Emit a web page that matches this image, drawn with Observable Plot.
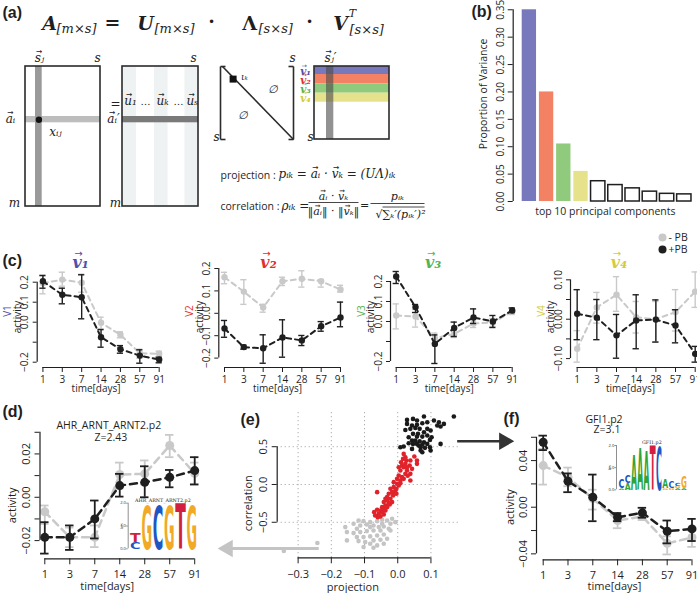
<!DOCTYPE html>
<html>
<head>
<meta charset="utf-8">
<script src="https://cdn.jsdelivr.net/npm/d3@7"></script>
<script src="https://cdn.jsdelivr.net/npm/@observablehq/plot@0.6"></script>
<style>
  html, body { margin: 0; padding: 0; background: #fff; }
  #fig { position: relative; width: 697px; height: 593px; overflow: hidden; background: #fff; }
  #fig svg { position: absolute; background: transparent !important; overflow: visible; max-width: none !important; }
</style>
</head>
<body>
<div id="fig"></div>
<script>
// ======================= DATA =======================
const days = ["1", "3", "7", "14", "28", "57", "91"];
const dayIndex = [1, 2, 3, 4, 5, 6, 7];

// (b) proportion of variance, top 10 PCs
const pcVariance = [0.35, 0.20, 0.105, 0.055, 0.037, 0.030, 0.024, 0.018, 0.014, 0.013];
const varTicks = [0, 0.05, 0.10, 0.15, 0.20, 0.25, 0.30, 0.35];

// (c) v1
const v1MinusMean = [0.195, 0.213, 0.197, -0.003, -0.063, -0.155, -0.158];
const v1MinusLow  = [0.142, 0.180, 0.150, -0.033, -0.078, -0.180, -0.175];
const v1MinusHigh = [0.237, 0.250, 0.240, 0.025, -0.048, -0.135, -0.145];
const v1PlusMean  = [0.205, 0.137, 0.125, -0.075, -0.135, -0.167, -0.187];
const v1PlusLow   = [0.170, 0.092, 0.017, -0.125, -0.155, -0.205, -0.203];
const v1PlusHigh  = [0.233, 0.170, 0.237, -0.037, -0.117, -0.138, -0.175];
// (c) v2
const v2MinusMean = [0.161, 0.097, 0.026, 0.143, 0.154, 0.143, 0.106];
const v2MinusLow  = [0.132, 0.040, 0.005, 0.124, 0.117, 0.117, 0.095];
const v2MinusHigh = [0.183, 0.150, 0.040, 0.161, 0.190, 0.150, 0.125];
const v2PlusMean  = [-0.068, -0.151, -0.156, -0.108, -0.121, -0.058, -0.019];
const v2PlusLow   = [-0.107, -0.160, -0.223, -0.196, -0.144, -0.080, -0.060];
const v2PlusHigh  = [-0.032, -0.142, -0.096, -0.029, -0.099, -0.037, 0.050];
// (c) v3
const v3MinusMean = [0.030, 0.025, -0.083, -0.062, -0.010, -0.005, 0.050];
const v3MinusLow  = [-0.037, -0.028, -0.110, -0.080, -0.030, -0.025, 0.035];
const v3MinusHigh = [0.088, 0.060, -0.058, -0.045, 0.010, 0.015, 0.065];
const v3PlusMean  = [0.225, 0.072, -0.112, -0.032, 0.020, 0.000, 0.055];
const v3PlusLow   = [0.190, 0.045, -0.210, -0.075, -0.010, -0.030, 0.045];
const v3PlusHigh  = [0.250, 0.085, -0.067, -0.003, 0.063, 0.030, 0.068];
// (c) v4
const v4MinusMean = [-0.075, 0.030, 0.062, 0.005, 0.000, 0.018, 0.070];
const v4MinusLow  = [-0.109, -0.010, 0.020, -0.035, -0.058, -0.030, 0.030];
const v4MinusHigh = [-0.029, 0.068, 0.108, 0.045, 0.045, 0.075, 0.120];
const v4PlusMean  = [0.014, 0.004, -0.041, -0.003, -0.001, -0.016, -0.088];
const v4PlusLow   = [-0.052, -0.052, -0.099, -0.075, -0.058, -0.060, -0.109];
const v4PlusHigh  = [0.075, 0.050, 0.012, 0.062, 0.049, 0.024, -0.069];

// (d) AHR_ARNT_ARNT2.p2
const ahrMinusMean = [-0.0067, -0.0185, -0.0185, 0.0105, 0.0108, 0.0239, 0.0110];
const ahrMinusLow  = [-0.0123, -0.0230, -0.0230, 0.0040, 0.0060, 0.0185, 0.0060];
const ahrMinusHigh = [-0.0038, -0.0140, -0.0130, 0.0160, 0.0170, 0.0288, 0.0160];
const ahrPlusMean  = [-0.0185, -0.0185, -0.0100, 0.0054, 0.0069, 0.0092, 0.0123];
const ahrPlusLow   = [-0.0260, -0.0243, -0.0190, 0.0003, 0.0000, 0.0046, 0.0059];
const ahrPlusHigh  = [-0.0115, -0.0130, -0.0015, 0.0108, 0.0143, 0.0126, 0.0185];

// (f) GFI1.p2
const gfiMinusMean = [0.0357, 0.0257, 0.0074, -0.0114, -0.0080, -0.0310, -0.0260];
const gfiMinusLow  = [0.0194, 0.0180, -0.0020, -0.0180, -0.0110, -0.0405, -0.0340];
const gfiMinusHigh = [0.0500, 0.0340, 0.0150, -0.0060, -0.0050, -0.0250, -0.0200];
const gfiPlusMean  = [0.0557, 0.0223, 0.0086, -0.0086, -0.0048, -0.0206, -0.0186];
const gfiPlusLow   = [0.0490, 0.0129, -0.0120, -0.0120, -0.0090, -0.0310, -0.0290];
const gfiPlusHigh  = [0.0614, 0.0290, 0.0280, -0.0050, -0.0005, -0.0114, -0.0100];

// (e) projection vs correlation  [projection, correlation]
const eTopMotifs = [[0.169,0.899],[0.079,0.899],[0.046,0.868],[0.028,0.855],[0.058,0.846],[0.028,0.802],[0.043,0.780],[0.058,0.789],[0.074,0.811],[0.089,0.824],[0.109,0.846],[0.124,0.824],[0.139,0.802],[0.129,0.767],[0.119,0.780],[0.066,0.736],[0.053,0.749],[0.038,0.736],[0.023,0.722],[0.089,0.736],[0.099,0.714],[0.079,0.692],[0.061,0.670],[0.046,0.670],[0.033,0.626],[0.058,0.634],[0.074,0.634],[0.089,0.648],[0.102,0.626],[0.053,0.581],[0.043,0.581],[0.066,0.573],[0.079,0.559],[0.097,0.590],[0.089,0.537],[0.074,0.529],[0.046,0.537],[0.058,0.537],[0.033,0.546],[0.018,0.502],[0.069,0.449],[0.074,0.427],[0.099,0.449],[0.129,0.537],[0.069,0.493],[0.082,0.485],[0.008,0.493],[0.097,0.493],[0.043,0.471],[0.063,0.515]];
const eMidMotifs = [[0.018,0.405],[0.023,0.361],[0.016,0.339],[0.026,0.317],[0.010,0.295],[0.023,0.273],[0.038,0.317],[0.058,0.317],[0.058,0.273],[0.028,0.229],[0.018,0.229],[0.043,0.207],[0.008,0.185],[0.028,0.185],[0.038,0.141],[0.023,0.141],[0.003,0.119],[0.013,0.097],[-0.002,0.075],[0.008,0.053],[0.038,0.053],[-0.012,0.031],[-0.002,0.009],[0.003,-0.013],[-0.012,-0.035],[-0.022,-0.057],[-0.007,-0.079],[-0.017,-0.101],[-0.027,-0.123],[-0.014,-0.145],[-0.032,-0.167],[-0.022,-0.189],[-0.032,-0.211],[-0.042,-0.233],[-0.027,-0.247],[-0.037,-0.278],[-0.047,-0.300],[-0.032,-0.300],[-0.042,-0.322],[-0.052,-0.344],[-0.037,-0.344],[-0.062,-0.335],[-0.047,-0.366],[-0.057,-0.388],[-0.042,-0.396],[-0.068,-0.410],[-0.052,-0.423],[-0.062,-0.101],[-0.037,-0.189],[-0.024,-0.264],[-0.010,-0.115],[-0.004,-0.057],[0.008,0.018],[0.018,0.075],[0.030,0.115],[0.036,0.251],[0.050,0.370],[0.013,0.251],[0.003,0.229],[-0.004,-0.123],[-0.017,-0.233],[-0.060,-0.432],[-0.071,-0.366]];
const eLowMotifs = [[-0.017,-0.454],[-0.032,-0.476],[-0.047,-0.467],[-0.062,-0.485],[-0.083,-0.498],[-0.103,-0.485],[-0.118,-0.476],[-0.133,-0.520],[-0.113,-0.542],[-0.093,-0.529],[-0.073,-0.542],[-0.057,-0.564],[-0.042,-0.555],[-0.027,-0.586],[-0.022,-0.520],[-0.052,-0.608],[-0.073,-0.608],[-0.093,-0.617],[-0.113,-0.630],[-0.133,-0.643],[-0.153,-0.630],[-0.123,-0.696],[-0.103,-0.696],[-0.083,-0.687],[-0.062,-0.674],[-0.042,-0.661],[-0.022,-0.608],[-0.153,-0.740],[-0.118,-0.749],[-0.098,-0.762],[-0.073,-0.740],[-0.052,-0.731],[-0.032,-0.718],[-0.083,-0.784],[-0.062,-0.806],[-0.103,-0.828],[-0.073,-0.837],[-0.242,-0.775],[-0.343,-0.881],[-0.047,-0.520],[-0.007,-0.498],[-0.083,-0.564],[-0.042,-0.784],[-0.158,-0.564],[-0.123,-0.586]];
const eGridX = [-0.3, -0.2, -0.1, 0, 0.1];
const eGridY = [-0.5, 0, 0.5];
const eArrowLow  = {from: [-0.238, -0.847], tip: [-0.540, -0.847]};
const eArrowHigh = {from: [0.179, 0.573], tip: [0.3485, 0.573]};

// sequence logos (bits)
const ahrLogo = [
  {pos: 1, ch: "C", y0: 0, y1: 0.30}, {pos: 1, ch: "T", y0: 0.30, y1: 0.72},
  {pos: 2, ch: "G", y0: 0, y1: 1.90}, {pos: 3, ch: "C", y0: 0, y1: 1.87},
  {pos: 4, ch: "G", y0: 0, y1: 1.87}, {pos: 5, ch: "T", y0: 0, y1: 2.00},
  {pos: 6, ch: "G", y0: 0, y1: 1.87}
];
const gfiLogo = [
  {pos: 1, ch: "A", y0: 0, y1: 0.07}, {pos: 1, ch: "C", y0: 0.07, y1: 0.50},
  {pos: 2, ch: "A", y0: 0, y1: 0.30}, {pos: 2, ch: "C", y0: 0.30, y1: 0.66},
  {pos: 3, ch: "A", y0: 0, y1: 1.59}, {pos: 4, ch: "A", y0: 0, y1: 1.85},
  {pos: 5, ch: "A", y0: 0, y1: 1.77}, {pos: 6, ch: "T", y0: 0, y1: 2.00},
  {pos: 7, ch: "C", y0: 0, y1: 1.92},
  {pos: 8, ch: "G", y0: 0, y1: 0.08}, {pos: 8, ch: "A", y0: 0.08, y1: 0.50},
  {pos: 9, ch: "G", y0: 0, y1: 0.10}, {pos: 9, ch: "C", y0: 0.10, y1: 0.38},
  {pos: 10, ch: "A", y0: 0, y1: 0.08}, {pos: 10, ch: "G", y0: 0.08, y1: 0.18}, {pos: 10, ch: "C", y0: 0.18, y1: 0.32},
  {pos: 11, ch: "A", y0: 0, y1: 0.08}, {pos: 11, ch: "G", y0: 0.08, y1: 0.60}
];

// (a) schematic of the decomposition (schematic units); "^" marks a vector letter
const matrixFrames = [
  {x1: 25, x2: 100, y1: 66, y2: 206},
  {x1: 122, x2: 198, y1: 66, y2: 206},
  {x1: 314, x2: 389, y1: 66, y2: 139}
];
const matrixBands = [
  {x1: 122, x2: 136, y1: 66, y2: 206, kind: "faint"},
  {x1: 154, x2: 167.5, y1: 66, y2: 206, kind: "faint"},
  {x1: 184.5, x2: 198, y1: 66, y2: 206, kind: "faint"},
  {x1: 25, x2: 100, y1: 116, y2: 122.3, kind: "row"},
  {x1: 35, x2: 41.7, y1: 66, y2: 206, kind: "col"},
  {x1: 122, x2: 198, y1: 116, y2: 122.3, kind: "rowDark"},
  {x1: 314, x2: 389, y1: 66, y2: 74, kind: "pc1"},
  {x1: 314, x2: 389, y1: 74, y2: 83.3, kind: "pc2"},
  {x1: 314, x2: 389, y1: 83.3, y2: 92.7, kind: "pc3"},
  {x1: 314, x2: 389, y1: 92.7, y2: 101.7, kind: "pc4"}
];
const vColumnBand = [{x1: 326, x2: 333.3, y1: 66, y2: 139}];
const lambdaStrokes = [
  {x1: 220, y1: 66, x2: 220, y2: 139}, {x1: 220, y1: 66, x2: 225, y2: 66}, {x1: 220, y1: 139, x2: 225, y2: 139},
  {x1: 293, y1: 66, x2: 293, y2: 139}, {x1: 288, y1: 66, x2: 293, y2: 66}, {x1: 288, y1: 139, x2: 293, y2: 139},
  {x1: 222, y1: 66, x2: 293, y2: 139}
];
const lambdaEntry = [{x1: 229.6, x2: 236.6, y1: 75.6, y2: 82.6}];
const elementDot = [{x: 38.4, y: 119.2}];
const fractionBars = [
  {x1: 308, y1: 202, x2: 358, y2: 202},
  {x1: 370, y1: 203, x2: 424, y2: 203},
  {x1: 382, y1: 206.5, x2: 424, y2: 206.5}
];
const headSymbols = [{x: 49, y: 23, t: "A"}, {x: 145, y: 23, t: "U"}, {x: 340, y: 23, t: "V"}];
const headLambda = [{x: 249, y: 23, t: "\u039B"}];
const headDims = [{x: 56, y: 28, t: "[m\u00D7s]"}, {x: 154, y: 28, t: "[m\u00D7s]"}, {x: 258, y: 28, t: "[s\u00D7s]"}, {x: 349, y: 29, t: "[s\u00D7s]"}];
const headSup = [{x: 352, y: 13, t: "T"}];
const headOps = [{x: 112, y: 22, t: "="}, {x: 211, y: 21, t: "\u00B7"}, {x: 309, y: 21, t: "\u00B7"}];
const matrixLabels = [
  {x: 39, y: 58, t: "^s\u2C7C"}, {x: 97, y: 58, t: "s"}, {x: 193, y: 58, t: "s"},
  {x: 292, y: 58, t: "s"}, {x: 216, y: 137, t: "s"}, {x: 310, y: 137, t: "s"},
  {x: 10, y: 119, t: "^a\u1D62"}, {x: 113, y: 119, t: "^a\u1D62\u2032"},
  {x: 55, y: 132, t: "x\u1D62\u2C7C"}, {x: 14, y: 203, t: "m"}, {x: 115, y: 203, t: "m"},
  {x: 130, y: 101, t: "^u\u2081"}, {x: 162, y: 101, t: "^u\u2096"}, {x: 192, y: 101, t: "^u\u209B"},
  {x: 115, y: 104, t: "="}, {x: 330, y: 58, t: "^s\u2C7C\u2032"}
];
const matrixDots = [{x: 145, y: 101, t: "\u2026"}, {x: 178, y: 101, t: "\u2026"}];
const lambdaLabels = [{x: 244, y: 77, t: "\u03B9\u2096", s: 9}, {x: 272, y: 89, t: "\u2205", s: 11}, {x: 242, y: 115, t: "\u2205", s: 11}];
const pcLabels = [{x: 305, y: 71, t: "^v\u2081", k: 0}, {x: 305, y: 80, t: "^v\u2082", k: 1}, {x: 305, y: 89, t: "^v\u2083", k: 2}, {x: 305, y: 98, t: "^v\u2084", k: 3}];
const formulaWords = [{x: 220, y: 175, t: "projection :"}, {x: 220, y: 206, t: "correlation :"}];
const formulaLeft = [{x: 278, y: 174, t: "p\u1D62\u2096 = ^a\u1D62 \u00B7 ^v\u2096 = (U\u039B)\u1D62\u2096"}, {x: 281, y: 206, t: "\u03C1\u1D62\u2096 ="}];
const formulaCentered = [
  {x: 333, y: 196, t: "^a\u1D62 \u00B7 ^v\u2096"},
  {x: 333, y: 211, t: "\u2016^a\u1D62\u2016 \u00B7 \u2016^v\u2096\u2016"},
  {x: 364, y: 205, t: "="},
  {x: 397, y: 196, t: "p\u1D62\u2096"},
  {x: 400, y: 214, t: "\u221A\u2211\u2096\u2032(p\u1D62\u2096\u2032)\u00B2"}
];

// ======================= STYLE =======================
const INK = "#1f1f1f", GREY = "#c9c9c9";
const SANS = "'Open Sans', 'DejaVu Sans', sans-serif";
const SERIF = "'DejaVu Serif', 'Liberation Serif', serif";
const TAGFONT = "'Liberation Sans', Arial, sans-serif";
const pcFill = ["#7878bc", "#f38264", "#90ca7c", "#e6e28c"];
const pcInk = ["#5050aa", "#e0302f", "#52b452", "#d3cc3c"];
const bandFill = {faint: "#eef2f2", row: "#bdbdbd", col: "#9a9a9a", rowDark: "#7a7a7a", pc1: pcFill[0], pc2: pcFill[1], pc3: pcFill[2], pc4: pcFill[3]};
const logoInk = {A: "#2ea43a", C: "#2056c4", G: "#f1aa26", T: "#d21f40"};
const baseStyle = {fontFamily: SANS, fontSize: "10px", color: INK, background: "transparent", overflow: "visible"};

const fig = document.getElementById("fig");
function mount(svg, left, top) {
  svg.style.position = "absolute";
  svg.style.left = left + "px";
  svg.style.top = top + "px";
  fig.appendChild(svg);
  return svg;
}
const signed = (d, n) => (d < 0 ? "\u2212" : "") + Math.abs(d).toFixed(n);
const ftext = (s, o) => Plot.text([s], {textAnchor: "middle", lineAnchor: "middle", ...o});

// text measuring (for placing vector arrows above letters)
const ctx = document.createElement("canvas").getContext("2d");
function measure(s, o) {
  ctx.font = `${o.fontStyle || "normal"} ${o.fontWeight || "normal"} ${o.fontSize}px ${o.fontFamily || SANS}`;
  return ctx.measureText(s).width;
}
function arrowOffsets(str, o) {
  const plain = str.replace(/\^/g, "");
  const W = measure(plain, o);
  const anchor = o.textAnchor || "middle";
  const left = anchor === "start" ? 0 : anchor === "end" ? -W : -W / 2;
  const out = [];
  let removed = 0;
  for (let k = 0; k < str.length; k++) {
    if (str[k] !== "^") continue;
    const pos = k - removed; removed++;
    const pre = measure(plain.slice(0, pos), o), cw = measure(plain[pos], o);
    out.push(left + pre + cw / 2 + (o.fontStyle === "italic" ? o.fontSize * 0.09 : 0));
  }
  return {plain, offsets: out};
}
function arrowStyle(o) {
  return {text: () => "\u2192", fontSize: o.fontSize * 0.62, fontFamily: "'DejaVu Sans', sans-serif", fill: o.fill, lineAnchor: "middle", textAnchor: "middle"};
}
function vecText(items, o) {
  const clean = [], arrows = [];
  for (const d of items) {
    const {plain, offsets} = arrowOffsets(d.t, o);
    clean.push({...d, t: plain});
    for (const dx of offsets) arrows.push({...d, x: d.x + dx, y: d.y - o.fontSize * 0.55});
  }
  return [Plot.text(clean, {x: "x", y: "y", text: "t", ...o}), Plot.text(arrows, {x: "x", y: "y", ...arrowStyle(o)})];
}
function vecTitle(str, o) {
  const {plain, offsets} = arrowOffsets(str, o);
  const marks = [ftext(plain, o)];
  for (const dx of offsets) marks.push(Plot.text([0], {frameAnchor: o.frameAnchor, dx: o.dx + dx, dy: o.dy - o.fontSize * 0.55, ...arrowStyle(o)}));
  return marks;
}
const txt = (items, o) => Plot.text(items, {x: "x", y: "y", text: "t", ...o});

// ======================= (a) =======================
mount(Plot.plot({
  width: 470, height: 225, margin: 0,
  x: {domain: [0, 470], range: [0, 470], axis: null},
  y: {domain: [0, 225], range: [0, 225], axis: null},
  color: {type: "identity"},
  style: baseStyle,
  marks: [
    Plot.rect(matrixBands, {x1: "x1", x2: "x2", y1: "y1", y2: "y2", fill: d => bandFill[d.kind]}),
    Plot.rect(vColumnBand, {x1: "x1", x2: "x2", y1: "y1", y2: "y2", fill: "#4a4a4a", fillOpacity: 0.6}),
    Plot.rect(matrixFrames, {x1: "x1", x2: "x2", y1: "y1", y2: "y2", fill: "none", stroke: "#2b2b2b", strokeWidth: 1.6}),
    Plot.link(lambdaStrokes, {x1: "x1", y1: "y1", x2: "x2", y2: "y2", stroke: "#2b2b2b", strokeWidth: 1.6}),
    Plot.rect(lambdaEntry, {x1: "x1", x2: "x2", y1: "y1", y2: "y2", fill: "#111"}),
    Plot.dot(elementDot, {x: "x", y: "y", r: 3.2, fill: "#111"}),
    Plot.link(fractionBars, {x1: "x1", y1: "y1", x2: "x2", y2: "y2", stroke: "#333", strokeWidth: 0.9}),
    ftext("(a)", {frameAnchor: "top-left", dx: 2, dy: 12, textAnchor: "start", fontSize: 16, fontWeight: "bold", fontFamily: TAGFONT}),
    txt(headSymbols, {fontSize: 19, fontStyle: "italic", fontWeight: "bold", fontFamily: SERIF}),
    txt(headLambda, {fontSize: 19, fontWeight: "bold", fontFamily: SERIF}),
    txt(headDims, {fontSize: 13, fontStyle: "italic", fontFamily: SERIF, textAnchor: "start"}),
    txt(headSup, {fontSize: 11, fontStyle: "italic", fontFamily: SERIF}),
    txt(headOps, {fontSize: 19, fontWeight: "bold", fontFamily: SERIF}),
    ...vecText(matrixLabels, {fontSize: 12, fontStyle: "italic", fontFamily: SERIF, fill: "#222"}),
    txt(matrixDots, {fontSize: 10, fontFamily: SERIF}),
    txt(lambdaLabels, {fontSize: d => d.s, fontStyle: "italic", fontFamily: SERIF}),
    ...vecText(pcLabels, {fontSize: 10.5, fontStyle: "italic", fontWeight: "bold", fontFamily: SERIF, fill: d => pcInk[d.k]}),
    txt(formulaWords, {fontSize: 10.5, textAnchor: "start"}),
    ...vecText(formulaLeft, {fontSize: 12, fontStyle: "italic", fontFamily: SERIF, textAnchor: "start", fill: "#222"}),
    ...vecText(formulaCentered, {fontSize: 11, fontStyle: "italic", fontFamily: SERIF, fill: "#222"})
  ]
}), 0, 0);

// ======================= (b) =======================
const bars = pcVariance.map((v, k) => ({k, v}));
const barLeft = d => 0.2 + 1.2 * d.k, barRight = d => 1.2 + 1.2 * d.k;
mount(Plot.plot({
  width: 227, height: 218, marginLeft: 42.7, marginRight: 0, marginTop: 3.8, marginBottom: 17,
  x: {domain: [-0.427, 12.42], axis: null},
  y: {domain: [0, 0.36], label: null},
  color: {type: "identity"},
  style: baseStyle,
  marks: [
    Plot.rect(bars.filter(d => d.k < 4), {x1: barLeft, x2: barRight, y1: 0, y2: "v", fill: d => pcFill[d.k]}),
    Plot.rect(bars.filter(d => d.k >= 4), {x1: barLeft, x2: barRight, y1: 0, y2: "v", fill: "white", stroke: INK, strokeWidth: 1.5}),
    Plot.ruleX([-0.427], {y1: 0, y2: 0.35, stroke: INK, strokeWidth: 1.2}),
    Plot.axisY({ticks: varTicks, tickFormat: d => d.toFixed(2), tickRotate: -90, tickSize: 5, fontSize: 10, label: null}),
    ftext("Proportion of Variance", {frameAnchor: "left", rotate: -90, dx: -30, dy: -9, fontSize: 10.5}),
    ftext("top 10 principal components", {frameAnchor: "bottom", dy: 10, fontSize: 10.5}),
    ftext("(b)", {frameAnchor: "top-left", dx: -41.7, dy: 8, textAnchor: "start", fontSize: 16, fontWeight: "bold", fontFamily: TAGFONT})
  ]
}), 470, 0);

// ======================= time-course charts =======================
function timeChart(c) {
  const rows = ([v, lo, hi]) => v.map((d, k) => ({i: k + 1, v: d, lo: lo[k], hi: hi[k]}));
  const layers = [[rows(c.minus), GREY], [rows(c.plus), INK]];
  const marks = [];
  for (const [data, col] of layers) {
    marks.push(
      Plot.ruleX(data, {x: "i", y1: "lo", y2: "hi", stroke: col, strokeWidth: c.ew}),
      Plot.ruleY(data, {y: "lo", x1: d => d.i - c.cap, x2: d => d.i + c.cap, stroke: col, strokeWidth: c.ew}),
      Plot.ruleY(data, {y: "hi", x1: d => d.i - c.cap, x2: d => d.i + c.cap, stroke: col, strokeWidth: c.ew}),
      Plot.line(data, {x: "i", y: "v", stroke: col, strokeWidth: c.lw, strokeDasharray: c.dash}),
      Plot.dot(data, {x: "i", y: "v", r: c.r, fill: col})
    );
  }
  const yt = c.yTicks;
  marks.push(
    Plot.ruleX([c.xDomain[0]], {y1: yt[0], y2: yt[yt.length - 1], stroke: INK, strokeWidth: 1.2}),
    Plot.ruleY([c.yDomain[0]], {x1: 1, x2: 7, stroke: INK, strokeWidth: 1.2}),
    Plot.axisY({ticks: yt, tickFormat: d => c.yLabels.includes(d) ? signed(d, c.digits) : "", tickRotate: -90, tickSize: c.yTickSize, tickPadding: c.yPad, fontSize: c.fs, label: null}),
    Plot.axisX({ticks: dayIndex, tickFormat: i => days[i - 1], tickSize: c.xTickSize, tickPadding: c.xPad, fontSize: c.fs, label: null}),
    ftext("time[days]", {frameAnchor: "bottom", dx: c.xLabDx, dy: c.xLabDy, fontSize: c.fs}),
    ftext("activity", {frameAnchor: "left", rotate: -90, dx: c.actDx, dy: c.actDy, fontSize: c.fs}),
    ...(c.extra || [])
  );
  return Plot.plot({
    width: c.width, height: c.height,
    marginLeft: c.mL, marginRight: c.mR, marginTop: c.mT, marginBottom: c.mB,
    x: {domain: c.xDomain, label: null}, y: {domain: c.yDomain, label: null},
    style: baseStyle, marks
  });
}

const vCommon = {width: 170, height: 160, mT: 26, mB: 33, ew: 1.4, cap: 0.16, lw: 2, r: 3.2, dash: "5,4",
  fs: 10, yTickSize: 4, xTickSize: 5, xPad: 3, xLabDx: -5, xLabDy: 21, actDx: -19.5, actDy: 0, digits: 1};
const vSpecs = [
  {left: 0, mL: 36.7, mR: 5.6, xDomain: [0.705, 7.295], yDomain: [-0.2265, 0.2785],
   yTicks: [-0.2, -0.1, 0, 0.1, 0.2], yLabels: [-0.2, 0, 0.1, 0.2],
   minus: [v1MinusMean, v1MinusLow, v1MinusHigh], plus: [v1PlusMean, v1PlusLow, v1PlusHigh], titleDx: -20.5},
  {left: 180, mL: 38.3, mR: 4.3, xDomain: [0.705, 7.295], yDomain: [-0.242, 0.209],
   yTicks: [-0.2, -0.1, 0, 0.1, 0.2], yLabels: [-0.2, -0.1, 0, 0.1, 0.2],
   minus: [v2MinusMean, v2MinusLow, v2MinusHigh], plus: [v2PlusMean, v2PlusLow, v2PlusHigh], titleDx: -14},
  {left: 355, mL: 35, mR: 7.6, xDomain: [0.705, 7.295], yDomain: [-0.23, 0.275],
   yTicks: [-0.2, -0.1, 0, 0.1, 0.2], yLabels: [-0.2, 0, 0.1, 0.2],
   minus: [v3MinusMean, v3MinusLow, v3MinusHigh], plus: [v3PlusMean, v3PlusLow, v3PlusHigh], titleDx: -21},
  {left: 530, mL: 40, mR: 0, xDomain: [0.661, 7.27], yDomain: [-0.1226, 0.1338],
   yTicks: [-0.1, -0.05, 0, 0.05, 0.1], yLabels: [-0.1, 0, 0.1], digits: 2,
   minus: [v4MinusMean, v4MinusLow, v4MinusHigh], plus: [v4PlusMean, v4PlusLow, v4PlusHigh], titleDx: -16.5}
];
const vTitles = ["^v\u2081", "^v\u2082", "^v\u2083", "^v\u2084"];
const vNames = ["V1", "V2", "V3", "V4"];
vSpecs.forEach((s, k) => {
  const extra = [
    ...vecTitle(vTitles[k], {frameAnchor: "top", dx: s.titleDx, dy: -4, fontSize: 16, fontStyle: "italic", fontWeight: "bold", fontFamily: SERIF, fill: pcInk[k]}),
    ftext(vNames[k], {frameAnchor: "left", rotate: -90, dx: -29, dy: -6, fontSize: 10, fill: pcInk[k]})
  ];
  if (k === 0) extra.push(ftext("(c)", {frameAnchor: "top-left", dx: -34.7, dy: -6, textAnchor: "start", fontSize: 16, fontWeight: "bold", fontFamily: TAGFONT}));
  if (k === 3) extra.push(
    Plot.dot([0], {frameAnchor: "top-right", dx: -38, dy: -29, r: 4, fill: GREY}),
    Plot.dot([0], {frameAnchor: "top-right", dx: -38, dy: -17, r: 4, fill: INK}),
    ftext("- PB", {frameAnchor: "top-right", dx: -32, dy: -29, textAnchor: "start", fontSize: 10.5}),
    ftext("+PB", {frameAnchor: "top-right", dx: -32, dy: -17, textAnchor: "start", fontSize: 10.5})
  );
  mount(timeChart({...vCommon, ...s, extra}), s.left, 240);
});

// ======================= (d) =======================
const dfCommon = {width: 210, height: 193, ew: 1.8, cap: 0.17, lw: 2.5, r: 4.5, dash: "7,5", fs: 11,
  yTickSize: 5, yPad: 5, xTickSize: 6, xPad: 5, digits: 2};
mount(timeChart({...dfCommon, mL: 39.5, mR: 10.8, mT: 29.6, mB: 34.7,
  xDomain: [0.808, 7.2], yDomain: [-0.0284, 0.031],
  yTicks: [-0.02, -0.01, 0, 0.01, 0.02, 0.03], yLabels: [-0.02, 0, 0.02],
  minus: [ahrMinusMean, ahrMinusLow, ahrMinusHigh], plus: [ahrPlusMean, ahrPlusLow, ahrPlusHigh],
  xLabDx: -12.7, xLabDy: 28, actDx: -27.8, actDy: 11,
  extra: [
    ftext("AHR_ARNT_ARNT2.p2", {frameAnchor: "top", dx: -11, dy: -4.6, fontSize: 10.5}),
    ftext("Z=2.43", {frameAnchor: "top", dx: -9, dy: 7.4, fontSize: 10.5}),
    ftext("(d)", {frameAnchor: "top-left", dx: -37.5, dy: -18.6, textAnchor: "start", fontSize: 16, fontWeight: "bold", fontFamily: TAGFONT})
  ]}), 0, 400);

// ======================= (f) =======================
mount(timeChart({...dfCommon, width: 207, mL: 46, mR: 0, mT: 32.1, mB: 33.7,
  xDomain: [0.73, 7.222], yDomain: [-0.0451, 0.064],
  yTicks: [-0.04, -0.02, 0, 0.02, 0.04, 0.06], yLabels: [-0.04, 0, 0.04],
  minus: [gfiMinusMean, gfiMinusLow, gfiMinusHigh], plus: [gfiPlusMean, gfiPlusLow, gfiPlusHigh],
  xLabDx: -2.5, xLabDy: 26.7, actDx: -26, actDy: 11,
  extra: [
    ftext("GFI1.p2", {frameAnchor: "top", dx: -13, dy: -13.1, fontSize: 10.5}),
    ftext("Z=3.1", {frameAnchor: "top", dx: -10, dy: -2.6, fontSize: 10.5}),
    ftext("(f)", {frameAnchor: "top-left", dx: -33, dy: -14, textAnchor: "start", fontSize: 16, fontWeight: "bold", fontFamily: TAGFONT})
  ]}), 490, 400);

// ======================= (e) =======================
const px = d => d[0], py = d => d[1];
const headOff = 0.028;
mount(Plot.plot({
  width: 320, height: 193, marginLeft: 76.7, marginRight: 62, marginTop: 12.2, marginBottom: 35.7,
  x: {domain: [-0.363, 0.183], label: null},
  y: {domain: [-0.97, 0.95], label: null},
  style: baseStyle,
  marks: [
    Plot.ruleX(eGridX, {stroke: "#9a9a9a", strokeWidth: 1, strokeDasharray: "1,3"}),
    Plot.ruleY(eGridY, {stroke: "#9a9a9a", strokeWidth: 1, strokeDasharray: "1,3"}),
    Plot.dot(eLowMotifs, {x: px, y: py, r: 2.3, fill: "#c4c4c4"}),
    Plot.dot(eMidMotifs, {x: px, y: py, r: 2.3, fill: "#e0232b"}),
    Plot.dot(eTopMotifs, {x: px, y: py, r: 2.3, fill: "#1a1a1a"}),
    Plot.ruleX([-0.363], {y1: -0.5, y2: 0.5, stroke: INK, strokeWidth: 1.2}),
    Plot.ruleY([-0.97], {x1: -0.3, x2: 0.1, stroke: INK, strokeWidth: 1.2}),
    Plot.axisY({ticks: eGridY, tickFormat: d => signed(d, 1), tickRotate: -90, tickSize: 5, tickPadding: 5, fontSize: 11, label: null}),
    Plot.axisX({ticks: eGridX, tickFormat: d => signed(d, 1), tickSize: 6, tickPadding: 6, fontSize: 11, label: null}),
    ftext("correlation", {frameAnchor: "left", rotate: -90, dx: -28.4, dy: 18, fontSize: 11}),
    ftext("projection", {frameAnchor: "bottom", dx: -15, dy: 30, fontSize: 11}),
    ftext("(e)", {frameAnchor: "top-left", dx: -36.7, dy: 7, textAnchor: "start", fontSize: 16, fontWeight: "bold", fontFamily: TAGFONT}),
    Plot.link([eArrowLow], {x1: d => d.from[0], y1: d => d.from[1], x2: d => d.tip[0] + headOff, y2: d => d.tip[1], stroke: "#c4c4c4", strokeWidth: 3}),
    Plot.dot([eArrowLow], {x: d => d.tip[0] + headOff, y: d => d.tip[1], symbol: "triangle", r: 6.5, rotate: -90, fill: "#c4c4c4"}),
    Plot.link([eArrowHigh], {x1: d => d.from[0], y1: d => d.from[1], x2: d => d.tip[0] - headOff, y2: d => d.tip[1], stroke: "#333", strokeWidth: 2.5}),
    Plot.dot([eArrowHigh], {x: d => d.tip[0] - headOff, y: d => d.tip[1], symbol: "triangle", r: 6.5, rotate: 90, fill: "#333"})
  ]
}), 200, 400);

// ======================= sequence logos =======================
function logoPlot(letters, nPos, xLeft, title, size, margins) {
  return Plot.plot({
    width: size[0], height: size[1], ...margins,
    x: {domain: [xLeft, nPos + 0.5], axis: null},
    y: {domain: [0, 2], label: null},
    color: {type: "identity"},
    style: {...baseStyle, fontSize: "4px"},
    marks: [
      Plot.text(letters, {x: "pos", y: "y0", text: "ch", fill: d => logoInk[d.ch], fontSize: 100, fontWeight: "bold", fontFamily: "'DejaVu Sans', sans-serif"}),
      Plot.ruleX([xLeft], {y1: 0, y2: 2, stroke: INK, strokeWidth: 0.5}),
      Plot.axisY({ticks: [0, 1, 2], tickSize: 1.5, tickPadding: 0.8, fontSize: 4, label: null, strokeWidth: 0.5}),
      ftext("bits", {frameAnchor: "left", rotate: -90, dx: -6.5, fontSize: 3.2}),
      ftext(title, {frameAnchor: "top", dy: -2.6, fontSize: 4.8, fontFamily: SERIF})
    ]
  });
}
function stretchLetters(plot, letters) {
  const xs = plot.scale("x"), ys = plot.scale("y");
  const g = plot.querySelector('g[aria-label="text"]');
  if (!g) return;
  const texts = g.querySelectorAll("text");
  texts.forEach((t, k) => {
    const d = letters[k];
    if (!d) return;
    t.removeAttribute("transform");
    t.removeAttribute("dy");
    t.setAttribute("x", 0); t.setAttribute("y", 0);
    t.setAttribute("text-anchor", "start");
    const b = t.getBBox();
    const X0 = xs.apply(d.pos - 0.47), X1 = xs.apply(d.pos + 0.47);
    const Yb = ys.apply(d.y0), Yt = ys.apply(d.y1);
    const sx = (X1 - X0) / (b.width || 1), sy = (Yb - Yt) / 72.9;
    t.setAttribute("transform", `translate(${X0 - b.x * sx},${Yb}) scale(${sx},${sy})`);
  });
}
const ahrPlot = mount(logoPlot(ahrLogo, 6, 0.36, "AHR_ARNT_ARNT2.p2", [82, 60],
  {marginLeft: 9.7, marginRight: 3, marginTop: 8.7, marginBottom: 5.7}), 118, 494);
stretchLetters(ahrPlot, ahrLogo);
const gfiPlot = mount(logoPlot(gfiLogo, 11, 0.23, "GFI1.p2", [86, 58],
  {marginLeft: 10, marginRight: 5.3, marginTop: 9, marginBottom: 4.7}), 606, 436);
stretchLetters(gfiPlot, gfiLogo);
</script>
</body>
</html>
